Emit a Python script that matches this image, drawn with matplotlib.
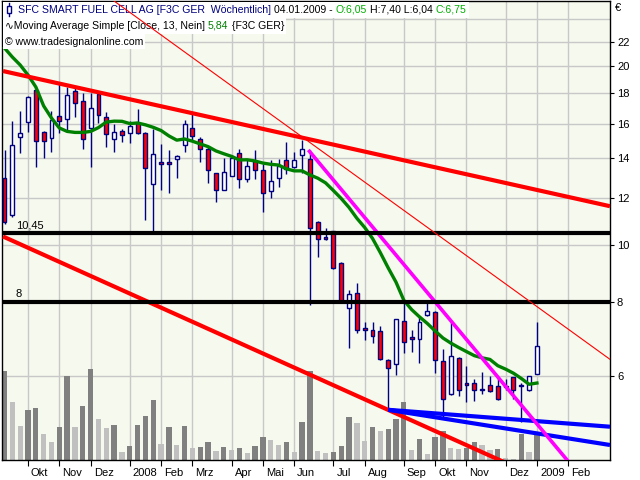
import numpy as np
import pandas as pd
import matplotlib
matplotlib.use('Agg')
import matplotlib.pyplot as plt
from matplotlib.patches import Rectangle
from matplotlib.lines import Line2D
from matplotlib.transforms import IdentityTransform, ScaledTranslation

plt.rcParams['font.family'] = ['Liberation Sans', 'DejaVu Sans']

# weekly bars, Monday of each week
first_week = '2007-09-10'
n_slots = 78

opens = [12.94, 11.22, 15.18, 16.09, 18.24, 15.49, 15.16, 16.49, 16.28, 18.15,
         17.46, 15.72, 17.96, 16.44, 15.06, 15.56, 15.46, 16.05, 15.42, 12.64,
         13.79, 13.79, 13.97, 14.71, 15.72, 15.06, 14.49, 13.19, 12.35, 13.07,
         14.26, 12.92, 13.83, 13.35, 12.30, 12.94, 13.88, 13.54, 14.17, 13.93,
         10.91, 10.29, 10.53, 9.30, 7.81, 8.27, 7.22, 7.17, 7.14, 6.38,
         6.28, 7.42, 6.97, 6.92, 7.60, 7.69, 6.36, 5.59, 6.43, 5.83,
         5.83, 5.67, 5.79, 5.76, 5.74, 5.97, 5.78, 5.67, 6.05]
highs = [14.45, 16.17, 16.83, 17.80, 18.30, 15.55, 16.83, 18.65, 18.44, 18.37,
         18.00, 18.04, 18.19, 16.73, 16.00, 15.69, 16.17, 16.93, 15.50, 15.69,
         14.79, 14.45, 14.17, 16.24, 16.60, 15.18, 14.60, 13.20, 13.99, 14.17,
         14.49, 13.93, 14.45, 13.70, 13.90, 13.93, 14.89, 14.32, 15.02, 14.45,
         10.95, 10.65, 10.55, 9.36, 8.38, 8.60, 7.41, 7.41, 7.29, 6.40,
         7.50, 7.98, 7.17, 7.56, 7.98, 7.72, 6.66, 7.43, 6.45, 6.23,
         5.92, 6.10, 5.99, 5.95, 5.92, 5.98, 5.83, 6.00, 7.40]
lows = [10.85, 11.15, 14.30, 15.52, 13.54, 14.02, 14.35, 15.46, 15.56, 16.44,
        14.52, 13.54, 16.03, 14.60, 14.35, 14.93, 14.86, 15.36, 11.00, 10.45,
        12.37, 12.24, 12.97, 14.35, 15.02, 13.81, 12.72, 11.82, 12.35, 13.07,
        12.48, 12.77, 12.89, 11.37, 11.97, 12.53, 13.16, 13.45, 13.19, 7.91,
        9.52, 10.18, 9.10, 7.98, 6.68, 7.08, 6.90, 6.83, 6.38, 5.26,
        6.02, 6.57, 6.59, 6.30, 7.58, 6.08, 5.12, 5.57, 5.56, 5.43,
        5.44, 5.59, 5.64, 5.47, 5.67, 5.48, 5.02, 5.66, 6.04]
closes = [10.93, 14.73, 15.42, 17.73, 14.94, 14.94, 16.24, 16.20, 17.87, 17.33,
          15.06, 16.99, 16.54, 15.36, 15.49, 15.30, 15.88, 15.42, 13.45, 14.22,
          13.67, 13.67, 14.10, 15.97, 15.28, 14.49, 13.35, 12.35, 13.25, 13.99,
          12.89, 13.58, 13.35, 12.24, 12.81, 13.58, 13.40, 13.90, 14.49, 10.65,
          10.21, 10.21, 9.12, 8.01, 8.24, 7.17, 7.17, 7.01, 6.40, 6.18,
          7.48, 6.84, 6.92, 7.40, 7.72, 6.38, 5.48, 6.48, 5.67, 5.79,
          5.67, 5.69, 5.65, 5.48, 5.76, 5.67, 5.80, 5.99, 6.75]
volumes = [89, 58, 34, 50, 52, 26, 18, 33, 84, 33,
           54, 91, 41, 32, 35, 8, 14, 35, 44, 60,
           16, 33, 15, 34, 12, 13, 18, 9, 13, 10,
           12, 7, 14, 23, 20, 15, 18, 8, 38, 89,
           9, 7, 8, 14, 43, 37, 19, 33, 29, 31,
           41, 58, 10, 21, 6, 23, 29, 12, 11, 12,
           18, 15, 10, 11, 2, 1, 26, 8, 28]
# SMA(13) before enough bars exist in the window
ma_early = [21.48, 20.74, 20.11, 19.34, 18.46, 17.15, 16.36, 15.74, 15.53, 15.47, 15.47, 15.53]

month_labels = ['Okt', 'Nov', 'Dez', '2008', 'Feb', 'Mrz', 'Apr', 'Mai', 'Jun',
                'Jul', 'Aug', 'Sep', 'Okt', 'Nov', 'Dez', '2009', 'Feb']
month_starts = pd.date_range('2007-10-01', '2009-02-01', freq='MS')
price_ticks = [6, 8, 10, 12, 14, 16, 18, 20, 22]

levels = [10.45, 8.0]
level_labels = ['10,45', '8']

# drawn trendlines: (bar index pair, price pair)
tl_upper = ([-0.19, 77.33], [19.64, 11.61])
tl_thin = ([13.0, 77.33], [26.36, 6.40])
tl_lower = ([-0.19, 68.95], [10.32, 4.00])
tl_magenta = ([38.8, 74.0], [14.45, 4.00])
tl_blue1 = ([49.0, 77.33], [5.26, 4.925])
tl_blue2 = ([49.0, 77.33], [5.26, 4.587])

weeks = pd.date_range(first_week, periods=n_slots, freq='7D')
idx = np.arange(len(closes))

ma = pd.Series(closes).rolling(13).mean()
ma.iloc[:12] = ma_early

navy = '#000080'
gridc = '#c8c8c8'

fig = plt.figure(figsize=(6.4, 4.8), dpi=100)
ax = fig.add_axes([2/640, 20/480, 608/640, 459/480])
ax.set_facecolor('#f6f9ee')
ax.set_yscale('log')
ax.set_xlim(-0.32, 77.33)
ax.set_ylim(4.327, 25.79)

# volume in the lower pane, scaled to the pane height
vol_top = 459.0
vol_colors = ['#808080' if (i == 0 or volumes[i] > volumes[i-1]) else '#c0c0c0' for i in idx]
ax.bar(idx, np.array(volumes) / vol_top, width=0.68, color=vol_colors,
       transform=ax.get_xaxis_transform(), zorder=1)

# candles
for i in idx:
    o, h, l, c = opens[i], highs[i], lows[i], closes[i]
    ax.plot([i, i], [l, h], color=navy, lw=1.0, zorder=3, solid_capstyle='butt')
    fill = 'white' if c >= o else '#ff0000'
    lo, hi = min(o, c), max(o, c)
    if hi / lo < 1.004:
        hi = lo * 1.004
    ax.add_patch(Rectangle((i - 0.25, lo), 0.5, hi - lo, facecolor=fill,
                           edgecolor=navy, lw=1.0, zorder=3.5))

ax.plot(idx, ma, color='#008000', lw=2.4, zorder=4)

ax.plot(*tl_upper, color='#ff0000', lw=3, zorder=5, solid_capstyle='butt')
ax.plot(*tl_lower, color='#ff0000', lw=3, zorder=5, solid_capstyle='butt')
ax.plot(*tl_blue1, color='#0000ff', lw=3, zorder=6, solid_capstyle='butt')
ax.plot(*tl_blue2, color='#0000ff', lw=3, zorder=6, solid_capstyle='butt')
ax.plot(*tl_magenta, color='#ff00ff', lw=2.6, zorder=7, solid_capstyle='butt')

for lv, lab in zip(levels, level_labels):
    ax.axhline(lv, color='black', lw=3, zorder=8)
    ax.annotate(lab, (1.45, lv), xytext=(0, 2), textcoords='offset points',
                fontsize=8, va='bottom', ha='left', zorder=8)

# grid
for t in price_ticks + [24]:
    ax.axhline(t, color=gridc, lw=1.0, zorder=0.5)
tick_idx = [(m - weeks[0]).days // 7 for m in month_starts]
for t in tick_idx:
    ax.axvline(t, color=gridc, lw=1.0, zorder=0.5)

ax.yaxis.tick_right()
ax.set_yticks(price_ticks)
ax.set_yticklabels([str(t) for t in price_ticks])
ax.minorticks_off()
ax.tick_params(axis='y', direction='out', length=3, pad=2, labelsize=8)
ax.set_xticks(tick_idx)
ax.set_xticklabels(month_labels, ha='left')
ax.tick_params(axis='x', direction='out', length=4, pad=2, labelsize=8)
off = ScaledTranslation(3/100, 0, fig.dpi_scale_trans)
for lab in ax.get_xticklabels():
    lab.set_transform(lab.get_transform() + off)
for s in ax.spines.values():
    s.set_color('black')
    s.set_linewidth(1.0)

fig.text(615, 480 - 8, '€', fontsize=8, va='center', ha='left', transform=IdentityTransform())

# header lines with white background
renderer = fig.canvas.get_renderer()


def header(x, y, parts, box):
    x0 = x
    for s, c, gap in parts:
        t = fig.text(x, y, s, color=c, fontsize=7.6, va='center', ha='left',
                     transform=IdentityTransform(), zorder=6)
        x = t.get_window_extent(renderer).x1 + gap
    fig.add_artist(Rectangle((box[0], box[1]), x - box[0] + 2, box[2], facecolor='white',
                             edgecolor='none', transform=IdentityTransform(), zorder=5))


header(18, 480 - 10, [('SFC SMART FUEL CELL AG [F3C GER  Wöchentlich]', navy, 3),
                      ('04.01.2009 -', 'black', 3), ('O:6,05', '#00b000', 3),
                      ('H:7,40 L:6,04', 'black', 3), ('C:6,75', '#00b000', 0)],
       (3, 480 - 18, 16))
header(5, 480 - 26, [('∿Moving Average Simple [Close, 13, Nein]', 'black', 3),
                     ('5,84', '#008000', 3), ('{F3C GER}', 'black', 0)],
       (3, 480 - 34, 16))
header(5, 480 - 42, [('© www.tradesignalonline.com', 'black', 0)], (3, 480 - 49, 15))

# small candle icon in front of the title
fig.add_artist(Line2D([8.5, 8.5], [480 - 16, 480 - 3], color=navy, lw=1,
                      transform=IdentityTransform(), zorder=7))
fig.add_artist(Rectangle((6.5, 480 - 13), 4, 7, facecolor='white', edgecolor=navy, lw=1,
                         transform=IdentityTransform(), zorder=7))

# thin trendline is drawn over the header boxes
thin = Line2D(*tl_thin, color='#ff0000', lw=0.8, transform=ax.transData, zorder=8)
thin.set_clip_box(ax.bbox)
fig.add_artist(thin)

fig.savefig('out.png', dpi=100)
